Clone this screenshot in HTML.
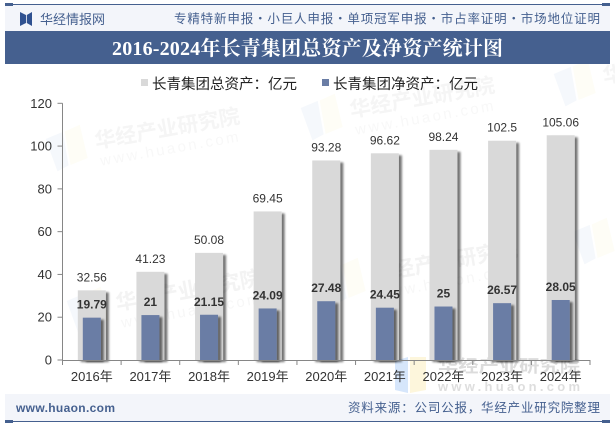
<!DOCTYPE html>
<html lang="zh">
<head>
<meta charset="utf-8">
<title>2016-2024年长青集团总资产及净资产统计图</title>
<style>
html,body{margin:0;padding:0;background:#fff;}
body{width:615px;height:427px;overflow:hidden;}
svg{display:block;font-family:"Liberation Sans","Noto Sans CJK SC",sans-serif;}
</style>
</head>
<body>
<svg id="chart" xmlns="http://www.w3.org/2000/svg" width="615" height="427" viewBox="0 0 615 427">
  <defs>
    <filter id="barShadow" x="-30%" y="-10%" width="170%" height="120%">
      <feGaussianBlur in="SourceAlpha" stdDeviation="1.1"/>
      <feOffset dx="3" dy="2"/>
      <feComponentTransfer><feFuncA type="linear" slope="0.55"/></feComponentTransfer>
      <feMerge><feMergeNode/><feMergeNode in="SourceGraphic"/></feMerge>
    </filter>
  </defs>

  <rect x="0" y="0" width="615" height="427" fill="#ffffff"/>

  <g font-weight="bold">
    <g transform="translate(45 135) rotate(-10)">
      <path d="M0 4 L18 0 L18 34 L6 38 Z" fill="#f5f8fc"/>
      <path d="M20 0 L36 -4 L38 30 L20 34 Z" fill="#fefdf6"/>
      <text x="48" y="22" font-size="21" fill="#f5f5f5">华经产业研究院</text>
      <text x="50" y="40" font-size="15" fill="#f8f8f8" font-weight="normal" letter-spacing="2.500">www.huaon.com</text>
    </g>
    <g transform="translate(300 104) rotate(-10)">
      <path d="M0 4 L18 0 L18 34 L6 38 Z" fill="#f5f8fc"/>
      <path d="M20 0 L36 -4 L38 30 L20 34 Z" fill="#fefdf6"/>
      <text x="48" y="22" font-size="21" fill="#f5f5f5">华经产业研究院</text>
      <text x="50" y="40" font-size="15" fill="#f8f8f8" font-weight="normal" letter-spacing="2.500">www.huaon.com</text>
    </g>
    <g transform="translate(553 70) rotate(-10)">
      <path d="M0 4 L18 0 L18 34 L6 38 Z" fill="#f5f8fc"/>
      <path d="M20 0 L36 -4 L38 30 L20 34 Z" fill="#fefdf6"/>
      <text x="48" y="22" font-size="21" fill="#f5f5f5">华经产业研究院</text>
    </g>
    <g transform="translate(66 297) rotate(-10)">
      <path d="M0 4 L18 0 L18 34 L6 38 Z" fill="#f5f8fc"/>
      <path d="M20 0 L36 -4 L38 30 L20 34 Z" fill="#fefdf6"/>
      <text x="48" y="22" font-size="21" fill="#f3f3f3">华经产业研究院</text>
      <text x="50" y="40" font-size="15" fill="#f7f7f7" font-weight="normal" letter-spacing="2.500">www.huaon.com</text>
    </g>
    <g transform="translate(323 268) rotate(-10)">
      <path d="M0 4 L18 0 L18 34 L6 38 Z" fill="#f5f8fc"/>
      <path d="M20 0 L36 -4 L38 30 L20 34 Z" fill="#fefdf6"/>
      <text x="48" y="22" font-size="21" fill="#f3f3f3">华经产业研究院</text>
      <text x="50" y="40" font-size="15" fill="#f7f7f7" font-weight="normal" letter-spacing="2.500">www.huaon.com</text>
    </g>
    <g transform="translate(572 228) rotate(-10)">
      <path d="M0 4 L18 0 L18 34 L6 38 Z" fill="#f5f8fc"/>
      <path d="M20 0 L36 -4 L38 30 L20 34 Z" fill="#fefdf6"/>
    </g>
  </g>

  <g>
    <path d="M395 361 L408 357 L408 393 L395 390 Z" fill="#d6e6fb"/>
    <path d="M410 357 L426 357 L426 390 L410 393 Z" fill="#fdf6dc"/>
    <text x="438" y="372" font-size="17" font-weight="bold" fill="#dcdcdc" textLength="142" lengthAdjust="spacingAndGlyphs">华经产业研究院</text>
    <text x="438" y="391" font-size="13" font-weight="bold" fill="#dedede" textLength="142">www.huaon.com</text>
  </g>

  <g id="plot"></g>

  <g>
    <rect x="5" y="5" width="605" height="26" fill="#f3f5fa"/>
    <rect x="5" y="4" width="605" height="1" fill="#45608f"/>
    <rect x="5" y="3" width="8" height="3" fill="#45608f"/>
    <rect x="602" y="3" width="8" height="3" fill="#45608f"/>
    <path d="M20 12 L26 15 L26 23 L20 26 Z M32 12 L26.800 15 L26.800 23 L32 26 Z" fill="#2f5190"/>
    <text x="40" y="24" font-size="13" fill="#45608f" textLength="65">华经情报网</text>
    <text x="174" y="23" font-size="12.500" fill="#45608f" textLength="426">专精特新申报・小巨人申报・单项冠军申报・市占率证明・市场地位证明</text>
    <rect x="5" y="31" width="605" height="33" fill="#45608f"/>
    <text x="112" y="55" font-size="20" font-weight="bold" fill="#ffffff" textLength="391" font-family="'Liberation Serif','Noto Serif CJK SC',serif">2016-2024年长青集团总资产及净资产统计图</text>
  </g>

  <g>
    <g>
      <rect x="141" y="79" width="7" height="7" fill="#d9d9d9"/>
      <text x="152" y="89" font-size="14.500" fill="#222222" textLength="145">长青集团总资产：亿元</text>
    </g>
    <g>
      <rect x="322" y="79" width="7" height="7" fill="#6a7da5"/>
      <text x="333" y="89" font-size="14.500" fill="#222222" textLength="145">长青集团净资产：亿元</text>
    </g>
  </g>

  <g>
    <rect x="5" y="394" width="605" height="27" fill="#f3f5fa"/>
    <rect x="5" y="421" width="605" height="1" fill="#45608f"/>
    <rect x="5" y="420" width="8" height="3" fill="#45608f"/>
    <rect x="602" y="420" width="8" height="3" fill="#45608f"/>
    <text x="16" y="412" font-size="12" font-weight="bold" fill="#45608f" textLength="99">www.huaon.com</text>
    <text x="348" y="412" font-size="12.500" fill="#45608f" textLength="252">资料来源：公司公报，华经产业研究院整理</text>
  </g>
</svg>

<script>
const categories = ['2016年','2017年','2018年','2019年','2020年','2021年','2022年','2023年','2024年'];
const totalAssets = [32.56,41.23,50.08,69.45,93.28,96.62,98.24,102.5,105.06];
const netAssets = [19.79,21,21.15,24.09,27.48,24.45,25,26.57,28.05];
const yTicks = [0,20,40,60,80,100,120];

const NS = 'http://www.w3.org/2000/svg';
const plot = document.getElementById('plot');
const left = 62.5, right = 590, base = 360, top_ = 103.3, yMax = 120;
const band = (right - left) / categories.length;
const xScale = i => left + band * (i + 0.5);
const yScale = v => base - (v / yMax) * (base - top_);

function make(tag, attrs, text) {
  const el = document.createElementNS(NS, tag);
  for (const k in attrs) el.setAttribute(k, attrs[k]);
  if (text !== undefined) el.textContent = text;
  return el;
}

categories.forEach((c, i) => {
  const cx = xScale(i);
  const t = yScale(totalAssets[i]);
  const total = make('rect', {x: cx - 14, y: t, width: 28, height: base - t, fill: '#d9d9d9', filter: 'url(#barShadow)'});
  
  
  plot.appendChild(total);
});

categories.forEach((c, i) => {
  const cx = xScale(i);
  const n = yScale(netAssets[i]);
  const net = make('rect', {x: cx - 9, y: n, width: 18, height: base - n, fill: '#6a7da5', filter: 'url(#barShadow)'});
  
  
  plot.appendChild(net);
});

const clearBelow = make('rect', {x: left - 1, y: base + 1, width: right - left + 6, height: 4, fill: 'none'});


plot.appendChild(clearBelow);

const axisColor = '#868686';
const yAxis = make('line', {x1: left, y1: top_, x2: left, y2: base, stroke: axisColor, 'stroke-width': 1});


plot.appendChild(yAxis);

const xAxis = make('line', {x1: left, y1: base + 0.5, x2: right, y2: base + 0.5, stroke: axisColor, 'stroke-width': 1});


plot.appendChild(xAxis);

yTicks.forEach(v => {
  const y = yScale(v);
  const tick = make('line', {x1: left - 5, y1: y, x2: left, y2: y, stroke: axisColor, 'stroke-width': 1});
  
  
  plot.appendChild(tick);
  const label = make('text', {x: 52, y: y + 4.5, 'font-size': 13, fill: '#333333', 'text-anchor': 'end'}, String(v));
  
  
  plot.appendChild(label);
});

for (let i = 0; i <= categories.length; i++) {
  const x = left + band * i;
  const tick = make('line', {x1: x, y1: base, x2: x, y2: base + 5, stroke: axisColor, 'stroke-width': 1});
  
  
  plot.appendChild(tick);
}

categories.forEach((c, i) => {
  const cx = xScale(i);
  const cat = make('text', {x: cx, y: 381, 'font-size': 13, fill: '#333333', 'text-anchor': 'middle'}, c);
  
  
  plot.appendChild(cat);

  const tl = make('text', {x: cx, y: yScale(totalAssets[i]) - 9, 'font-size': 12, fill: '#333333', 'text-anchor': 'middle'}, String(totalAssets[i]));
  
  
  plot.appendChild(tl);

  const nl = make('text', {x: cx, y: yScale(netAssets[i]) - 9, 'font-size': 12, 'font-weight': 'bold', fill: '#333333', 'text-anchor': 'middle'}, String(netAssets[i]));
  
  
  plot.appendChild(nl);
});
</script>
</body>
</html>
